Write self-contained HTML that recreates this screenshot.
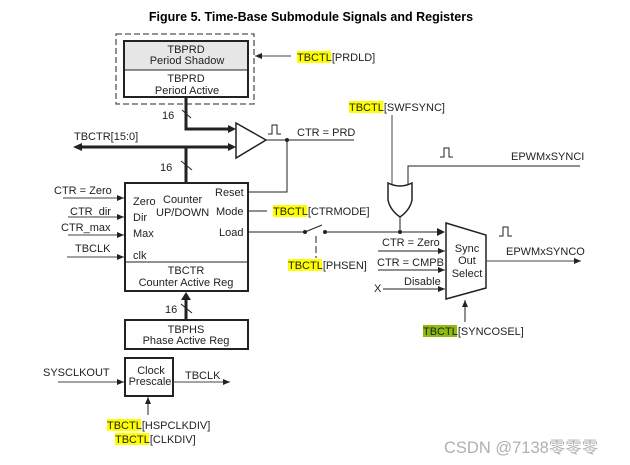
<!DOCTYPE html>
<html><head><meta charset="utf-8"><style>
html,body{margin:0;padding:0;background:#fff;}
svg{display:block;}
text{font-family:"Liberation Sans","Noto Sans CJK SC",sans-serif;font-size:11px;fill:#222;}
</style></head><body>
<svg width="630" height="465" viewBox="0 0 630 465" xmlns="http://www.w3.org/2000/svg">
<defs>
<marker id="a" markerWidth="8" markerHeight="8" refX="7" refY="4" orient="auto" markerUnits="userSpaceOnUse"><path d="M0,1 L7,4 L0,7 z" fill="#222"/></marker>
</defs>
<text x="311" y="21" text-anchor="middle" style="font-size:12.5px;font-weight:bold;fill:#000">Figure 5. Time-Base Submodule Signals and Registers</text>

<rect x="116" y="34" width="138" height="70" fill="none" stroke="#555" stroke-width="1.3" stroke-dasharray="6,3"/>
<rect x="124" y="41" width="124" height="29" fill="#e6e6e6"/>
<rect x="124" y="41" width="124" height="56" fill="none" stroke="#222" stroke-width="2"/>
<line x1="124" y1="70" x2="248" y2="70" stroke="#222"/>
<text x="186" y="53" text-anchor="middle">TBPRD</text>
<text x="187" y="64" text-anchor="middle">Period Shadow</text>
<text x="186" y="82" text-anchor="middle">TBPRD</text>
<text x="187" y="94" text-anchor="middle">Period Active</text>
<line x1="291" y1="56" x2="255" y2="56" stroke="#444" marker-end="url(#a)"/>
<rect x="297" y="51" width="34" height="12" fill="#ffff00"/>
<text x="297" y="61">TBCTL[PRDLD]</text>

<polyline points="186,97 186,129 232,129" fill="none" stroke="#222" stroke-width="3"/>
<path d="M228,125 L236,129 L228,133z" fill="#222"/>
<line x1="182" y1="110" x2="191" y2="118" stroke="#222"/>
<text x="162" y="119">16</text>
<line x1="80" y1="147" x2="232" y2="147" stroke="#222" stroke-width="3"/>
<path d="M73,147 L82,143 L82,151z" fill="#222"/>
<path d="M228,143 L236,147 L228,151z" fill="#222"/>
<text x="74" y="140">TBCTR[15:0]</text>
<line x1="186" y1="147" x2="186" y2="183" stroke="#222" stroke-width="3"/>
<line x1="181" y1="161" x2="192" y2="170" stroke="#222"/>
<text x="160" y="171">16</text>

<path d="M236,123 L266,140 L236,158 z" fill="#fff" stroke="#222" stroke-width="1.5"/>
<line x1="266" y1="140" x2="354" y2="140" stroke="#222"/>
<circle cx="287" cy="140" r="2" fill="#222"/>
<path d="M268,134 h4 v-9 h5 v9 h4" fill="none" stroke="#222"/>
<text x="297" y="136">CTR = PRD</text>
<polyline points="287,140 287,192 248,192" fill="none" stroke="#222"/>

<rect x="125" y="183" width="123" height="108" fill="none" stroke="#222" stroke-width="2"/>
<line x1="125" y1="262" x2="248" y2="262" stroke="#222"/>
<text x="133" y="205">Zero</text>
<text x="163" y="203">Counter</text>
<text x="215" y="196">Reset</text>
<text x="133" y="221">Dir</text>
<text x="156" y="216">UP/DOWN</text>
<text x="216" y="215">Mode</text>
<text x="133" y="237">Max</text>
<text x="219" y="236">Load</text>
<text x="133" y="259">clk</text>
<text x="186" y="274" text-anchor="middle">TBCTR</text>
<text x="186" y="286" text-anchor="middle">Counter Active Reg</text>

<text x="54" y="194">CTR = Zero</text>
<line x1="63" y1="198" x2="124" y2="198" stroke="#444" marker-end="url(#a)"/>
<text x="70" y="215">CTR_dir</text>
<line x1="68" y1="217" x2="124" y2="217" stroke="#444" marker-end="url(#a)"/>
<text x="61" y="231">CTR_max</text>
<line x1="68" y1="235" x2="124" y2="235" stroke="#444" marker-end="url(#a)"/>
<text x="75" y="252">TBCLK</text>
<line x1="67" y1="257" x2="124" y2="257" stroke="#444" marker-end="url(#a)"/>

<line x1="248" y1="211" x2="267" y2="211" stroke="#222"/>
<rect x="273" y="205" width="34" height="12" fill="#ffff00"/>
<text x="273" y="215">TBCTL[CTRMODE]</text>

<line x1="248" y1="232" x2="305" y2="232" stroke="#222"/>
<circle cx="305" cy="232" r="2" fill="#222"/>
<line x1="305" y1="232" x2="322" y2="225" stroke="#222"/>
<circle cx="325" cy="232" r="2" fill="#222"/>
<line x1="325" y1="232" x2="443" y2="232" stroke="#222"/>
<path d="M437,228 L445,232 L437,236z" fill="#222"/>
<line x1="316" y1="236" x2="316" y2="258" stroke="#222" stroke-dasharray="7,3"/>
<rect x="288" y="259" width="34" height="12" fill="#ffff00"/>
<text x="288" y="269">TBCTL[PHSEN]</text>

<rect x="349" y="101" width="34" height="12" fill="#ffff00"/>
<text x="349" y="111">TBCTL[SWFSYNC]</text>
<line x1="392" y1="115" x2="392" y2="184" stroke="#444"/>
<polyline points="408,184 408,166 580,166" fill="none" stroke="#222"/>
<path d="M440,157 h4 v-9 h5 v9 h4" fill="none" stroke="#222"/>
<text x="511" y="160">EPWMxSYNCI</text>
<path d="M388,183 Q400,189 412,183 L412,200 Q410,210 400,217 Q390,210 388,200 z" fill="#fff" stroke="#222" stroke-width="1.5"/>
<line x1="400" y1="217" x2="400" y2="232" stroke="#222"/>
<circle cx="400" cy="232" r="2" fill="#222"/>

<path d="M446,223 L486,235 L486,288 L446,299 z" fill="#fff" stroke="#222" stroke-width="1.5"/>
<text x="467" y="252" text-anchor="middle">Sync</text>
<text x="467" y="264" text-anchor="middle">Out</text>
<text x="467" y="277" text-anchor="middle">Select</text>
<text x="382" y="246">CTR = Zero</text>
<line x1="378" y1="251" x2="445" y2="251" stroke="#222" marker-end="url(#a)"/>
<text x="377" y="266">CTR = CMPB</text>
<line x1="378" y1="270" x2="445" y2="270" stroke="#222" marker-end="url(#a)"/>
<text x="404" y="285">Disable</text>
<text x="374" y="292">X</text>
<line x1="383" y1="289" x2="445" y2="289" stroke="#222" marker-end="url(#a)"/>
<line x1="486" y1="261" x2="581" y2="261" stroke="#444" marker-end="url(#a)"/>
<path d="M499,236 h4 v-9 h5 v9 h4" fill="none" stroke="#222"/>
<text x="506" y="255">EPWMxSYNCO</text>
<line x1="465" y1="322" x2="465" y2="300" stroke="#222" marker-end="url(#a)"/>
<rect x="423" y="325" width="34" height="12" fill="#8dbb10"/>
<text x="423" y="335">TBCTL[SYNCOSEL]</text>

<line x1="186" y1="320" x2="186" y2="298" stroke="#222" stroke-width="3"/>
<path d="M181,300 L186,292 L191,300z" fill="#222"/>
<line x1="181" y1="304" x2="192" y2="313" stroke="#222"/>
<text x="165" y="313">16</text>
<rect x="125" y="320" width="123" height="29" fill="none" stroke="#222" stroke-width="2"/>
<text x="186" y="333" text-anchor="middle">TBPHS</text>
<text x="186" y="344" text-anchor="middle">Phase Active Reg</text>

<rect x="125" y="358" width="48" height="38" fill="none" stroke="#222" stroke-width="2"/>
<text x="151" y="374" text-anchor="middle">Clock</text>
<text x="150" y="385" text-anchor="middle">Prescale</text>
<text x="43" y="376">SYSCLKOUT</text>
<line x1="58" y1="382" x2="124" y2="382" stroke="#444" marker-end="url(#a)"/>
<line x1="173" y1="382" x2="230" y2="382" stroke="#444" marker-end="url(#a)"/>
<text x="185" y="379">TBCLK</text>
<line x1="148" y1="415" x2="148" y2="397" stroke="#222" marker-end="url(#a)"/>
<rect x="107" y="419" width="34" height="12" fill="#ffff00"/>
<text x="107" y="429">TBCTL[HSPCLKDIV]</text>
<rect x="115" y="433" width="34" height="12" fill="#ffff00"/>
<text x="115" y="443">TBCTL[CLKDIV]</text>

<text x="444" y="453" style="font-size:16.5px;fill:#b0b0b0">CSDN @7138零零零</text>
</svg>
</body></html>
